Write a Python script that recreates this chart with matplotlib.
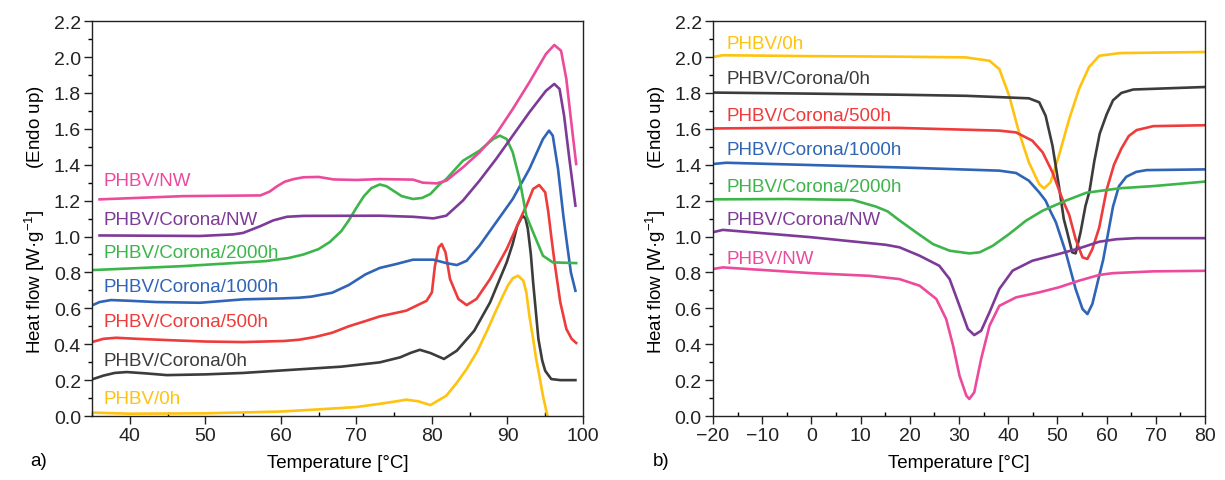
import matplotlib
matplotlib.use('Agg')
import matplotlib.pyplot as plt
from matplotlib.ticker import MultipleLocator

plt.rcParams['font.family'] = ['Liberation Sans', 'DejaVu Sans']
plt.rcParams['mathtext.default'] = 'regular'

# Sample names and line colours
labels = ['PHBV/0h', 'PHBV/Corona/0h', 'PHBV/Corona/500h', 'PHBV/Corona/1000h',
          'PHBV/Corona/2000h', 'PHBV/Corona/NW', 'PHBV/NW']
colors = ['#FFC20E', '#3C3C3C', '#EE3B3B', '#2F64B7', '#3DB54A', '#7E3A98', '#EC4A9D']

# a) heating scans: temperature [°C] and heat flow [W/g] per sample
heat_t_0h = [35, 40, 50, 60, 65, 70, 73.1, 75, 76.6, 78.2, 79.8, 81.9, 83.2, 84.6, 86, 87.2, 88.3, 89.4, 90.1, 90.7,
             91.4, 92.1, 92.5, 92.9, 93.4, 93.8, 94.2, 94.7, 95.3]
heat_q_0h = [0.019, 0.013, 0.015, 0.025, 0.037, 0.050, 0.068, 0.080, 0.091, 0.082, 0.061, 0.113, 0.180, 0.262, 0.360, 0.466,
             0.570, 0.670, 0.730, 0.767, 0.782, 0.754, 0.690, 0.559, 0.430, 0.318, 0.230, 0.113, 0.0]

heat_t_c0h = [35, 36.5, 38, 39.6, 42, 44.9, 50, 55, 62.4, 68, 73.1, 75.8, 77.2, 78.4, 79.8, 81.6, 83.3, 85.6, 87.7,
              89.9, 90.7, 91.3, 92.0, 92.4, 92.7, 93.1, 93.4, 94.1, 94.6, 95.0, 95.8, 97, 99]
heat_q_c0h = [0.204, 0.225, 0.240, 0.245, 0.238, 0.228, 0.232, 0.240, 0.260, 0.275, 0.299, 0.327, 0.352, 0.369, 0.351,
              0.318, 0.364, 0.475, 0.633, 0.856, 0.960, 1.060, 1.116, 1.100, 1.042, 0.900, 0.745, 0.429, 0.310, 0.252,
              0.206, 0.200, 0.200]

heat_t_500 = [35, 36.5, 38.2, 41, 45, 50, 55, 60.4, 62.4, 64.5, 66.8, 69, 71.2, 73.1, 76.6, 79.3, 80.0, 80.4, 80.9,
              81.3, 81.8, 82.4, 83.5, 84.6, 85.9, 87.7, 89.9, 92.1, 92.5, 93.4, 94.2, 95.0, 95.4, 95.8, 96.3, 97.0,
              97.8, 98.5, 99.1]
heat_q_500 = [0.412, 0.430, 0.436, 0.430, 0.423, 0.415, 0.412, 0.418, 0.425, 0.440, 0.464, 0.500, 0.529, 0.555, 0.587,
              0.642, 0.689, 0.837, 0.940, 0.958, 0.912, 0.763, 0.652, 0.618, 0.652, 0.763, 0.930, 1.135, 1.170, 1.265,
              1.287, 1.246, 1.140, 1.000, 0.837, 0.633, 0.485, 0.430, 0.407]

heat_t_1000 = [35, 36, 37.5, 40, 43.5, 49.3, 55, 60, 62.4, 64, 66.8, 69, 71.2, 73.1, 75.3, 77.5, 80.2, 81.9, 83.3,
               84.6, 86.3, 88.5, 90.7, 92.9, 94.7, 95.5, 96.0, 96.7, 97.4, 97.8, 98.4, 99.0]
heat_q_1000 = [0.616, 0.635, 0.646, 0.642, 0.635, 0.631, 0.650, 0.655, 0.659, 0.665, 0.687, 0.730, 0.789, 0.825, 0.847,
               0.871, 0.871, 0.852, 0.841, 0.865, 0.949, 1.079, 1.209, 1.376, 1.543, 1.590, 1.562, 1.376, 1.116, 0.986,
               0.800, 0.698]

heat_t_2000 = [35, 47, 58, 61, 63, 65, 66.5, 68, 69, 70, 71, 72, 73.1, 74, 74.9, 76, 77.5, 78.7, 79.8, 81, 81.9,
               84.1, 86.3, 88.1, 89.0, 89.9, 90.7, 91.6, 92.5, 93.4, 94.7, 96.0, 99.1]
heat_q_2000 = [0.813, 0.835, 0.863, 0.880, 0.900, 0.930, 0.970, 1.030, 1.090, 1.160, 1.225, 1.270, 1.290, 1.280, 1.255,
               1.225, 1.209, 1.215, 1.237, 1.290, 1.320, 1.422, 1.478, 1.543, 1.562, 1.543, 1.469, 1.320, 1.116, 1.023,
               0.893, 0.856, 0.852]

heat_t_cnw = [36, 45, 49.3, 53.7, 55, 57.3, 59, 60.8, 63, 73.1, 77.5, 80.2, 81.9, 84.1, 86.3, 88.5, 90.7, 92.9, 95.1,
              96.2, 96.9, 97.5, 98.2, 99.0]
heat_q_cnw = [1.006, 1.004, 1.003, 1.012, 1.020, 1.058, 1.090, 1.110, 1.115, 1.116, 1.110, 1.101, 1.116, 1.200, 1.311,
              1.432, 1.562, 1.692, 1.812, 1.850, 1.822, 1.673, 1.432, 1.172]

heat_t_nw = [36, 47.1, 57.3, 58.5, 59.5, 60.5, 61.7, 63, 65, 67, 70, 73.1, 77.5, 78.8, 80.6, 81.9, 84.1, 86.3, 88.5,
             90.7, 92.9, 95.1, 96.2, 97.1, 97.8, 98.4, 99.1]
heat_q_nw = [1.207, 1.225, 1.229, 1.250, 1.280, 1.305, 1.320, 1.330, 1.332, 1.318, 1.315, 1.320, 1.317, 1.300, 1.296,
             1.311, 1.385, 1.469, 1.571, 1.710, 1.859, 2.017, 2.067, 2.035, 1.877, 1.655, 1.404]

# b) cooling scans: temperature [°C] and heat flow [W/g] per sample
cool_t_0h = [-20, -18, 0, 17.9, 31.4, 36.2, 38.2, 40.2, 42.2, 44.2, 46.3, 47.3, 48.6, 50.3, 52.4, 54.4, 56.4, 58.5,
             62.7, 80]
cool_q_0h = [2.000, 2.010, 2.005, 2.002, 1.998, 1.979, 1.933, 1.784, 1.580, 1.413, 1.292, 1.268, 1.302, 1.450, 1.655,
             1.822, 1.943, 2.007, 2.022, 2.028]

cool_t_c0h = [-20, 0, 17.9, 31.4, 44.2, 46.3, 47.6, 49.0, 50.3, 51.3, 52.0, 53.0, 53.7, 54.7, 55.7, 56.5, 57.5, 58.6,
              60, 61.3, 63, 65.4, 80]
cool_q_c0h = [1.802, 1.796, 1.790, 1.784, 1.770, 1.748, 1.673, 1.506, 1.283, 1.097, 1.023, 0.912, 0.906, 1.023, 1.170,
              1.250, 1.420, 1.574, 1.680, 1.759, 1.800, 1.819, 1.833]

cool_t_500 = [-20, 3, 17.9, 38.2, 41.6, 44.9, 47.0, 49.0, 51.0, 52.4, 53.7, 55.1, 56.1, 57.1, 58.5, 60, 61.5, 63, 64.5,
              66.1, 69.5, 80]
cool_q_500 = [1.602, 1.607, 1.605, 1.590, 1.580, 1.534, 1.469, 1.358, 1.209, 1.120, 0.986, 0.884, 0.875, 0.930, 1.050,
              1.260, 1.400, 1.490, 1.560, 1.593, 1.615, 1.620]

cool_t_1000 = [-20, -17.3, 17.9, 38.2, 41.6, 44.2, 46.3, 47.6, 48.6, 49.7, 51.7, 53.7, 55.1, 56.1, 57.1, 58.5, 59.3,
               61.3, 62.5, 64.0, 66, 68.1, 80]
cool_q_1000 = [1.404, 1.411, 1.385, 1.367, 1.354, 1.311, 1.246, 1.200, 1.140, 1.079, 0.912, 0.708, 0.596, 0.568, 0.624,
               0.782, 0.870, 1.167, 1.280, 1.333, 1.360, 1.370, 1.374]

cool_t_2000 = [-20, -5, 8.4, 13.1, 15.5, 17.9, 21.3, 24.7, 28.1, 32.1, 34.2, 36.9, 40.2, 43.6, 47.0, 51.7, 55.9, 62.7,
               69.5, 80]
cool_q_2000 = [1.207, 1.209, 1.204, 1.167, 1.140, 1.090, 1.023, 0.958, 0.921, 0.906, 0.912, 0.949, 1.014, 1.088, 1.144,
               1.200, 1.244, 1.269, 1.281, 1.306]

cool_t_cnw = [-20, -18, 0, 15.1, 17.9, 22.0, 26.0, 28.1, 30.1, 31.8, 33.1, 34.5, 36.2, 38.2, 40.9, 44.9, 50.3, 54.4,
              58.5, 62, 66.1, 80]
cool_q_cnw = [1.024, 1.037, 0.996, 0.954, 0.940, 0.893, 0.837, 0.763, 0.614, 0.485, 0.451, 0.475, 0.578, 0.708, 0.810,
              0.865, 0.903, 0.934, 0.971, 0.985, 0.991, 0.991]

cool_t_nw = [-20, -18, 0, 11.8, 17.9, 22.0, 25.4, 27.4, 28.8, 30.1, 31.5, 32.1, 33.1, 34.5, 36.2, 38.2, 41.6, 46.3,
             50.3, 54.4, 58.5, 61.3, 69.5, 80]
cool_q_nw = [0.819, 0.828, 0.796, 0.781, 0.763, 0.726, 0.652, 0.540, 0.392, 0.225, 0.113, 0.095, 0.132, 0.318, 0.503,
             0.614, 0.661, 0.689, 0.717, 0.754, 0.786, 0.796, 0.806, 0.809]

heat_t = [heat_t_0h, heat_t_c0h, heat_t_500, heat_t_1000, heat_t_2000, heat_t_cnw, heat_t_nw]
heat_q = [heat_q_0h, heat_q_c0h, heat_q_500, heat_q_1000, heat_q_2000, heat_q_cnw, heat_q_nw]
cool_t = [cool_t_0h, cool_t_c0h, cool_t_500, cool_t_1000, cool_t_2000, cool_t_cnw, cool_t_nw]
cool_q = [cool_q_0h, cool_q_c0h, cool_q_500, cool_q_1000, cool_q_2000, cool_q_cnw, cool_q_nw]

# Label anchor heights (W/g) in each panel
heat_label_y = [0.095, 0.307, 0.525, 0.723, 0.913, 1.097, 1.31]
cool_label_y = [2.074, 1.88, 1.676, 1.485, 1.281, 1.096, 0.88]

fig = plt.figure(figsize=(12.25, 4.81), dpi=100)
ax1 = fig.add_axes([0.0751, 0.133, 0.4008, 0.821])
ax2 = fig.add_axes([0.582, 0.133, 0.4017, 0.821])


def style_axis(ax, xlim, xmajor):
    ax.set_xlim(*xlim)
    ax.set_ylim(0, 2.2)
    ax.xaxis.set_major_locator(MultipleLocator(xmajor))
    ax.xaxis.set_minor_locator(MultipleLocator(xmajor / 2))
    ax.yaxis.set_major_locator(MultipleLocator(0.2))
    ax.yaxis.set_minor_locator(MultipleLocator(0.1))
    ax.yaxis.set_major_formatter(plt.FuncFormatter(lambda v, p: f'{v:.1f}'))
    ax.tick_params(axis='both', which='major', direction='out', length=6, width=1,
                   labelsize=14, colors='#222222', pad=2)
    ax.tick_params(axis='x', which='minor', direction='in', length=3, width=1)
    ax.tick_params(axis='y', which='minor', direction='out', length=3, width=1)
    for s in ax.spines.values():
        s.set_linewidth(1.0)
        s.set_color('#222222')
    ax.set_xlabel('Temperature [°C]', fontsize=13.5, labelpad=7)
    ax.set_ylabel('Heat flow [W·g$^{-1}$]        (Endo up)', fontsize=13.5, labelpad=5)


for i in range(len(labels)):
    ax1.plot(heat_t[i], heat_q[i], color=colors[i], lw=1.9, solid_joinstyle='round')
    ax1.text(36.5, heat_label_y[i], labels[i], color=colors[i], fontsize=13.5, va='center', ha='left')
    ax2.plot(cool_t[i], cool_q[i], color=colors[i], lw=1.9, solid_joinstyle='round')
    ax2.text(-17.3, cool_label_y[i], labels[i], color=colors[i], fontsize=13.5, va='center', ha='left')

style_axis(ax1, (35, 100), 10)
style_axis(ax2, (-20, 80), 10)
ax2.xaxis.set_major_formatter(plt.FuncFormatter(lambda v, p: f'{v:.0f}'.replace('-', '\u2212')))

fig.text(0.0245, 0.023, 'a)', fontsize=13.5, ha='left', va='bottom')
fig.text(0.533, 0.023, 'b)', fontsize=13.5, ha='left', va='bottom')

fig.savefig('out.png', dpi=100)
